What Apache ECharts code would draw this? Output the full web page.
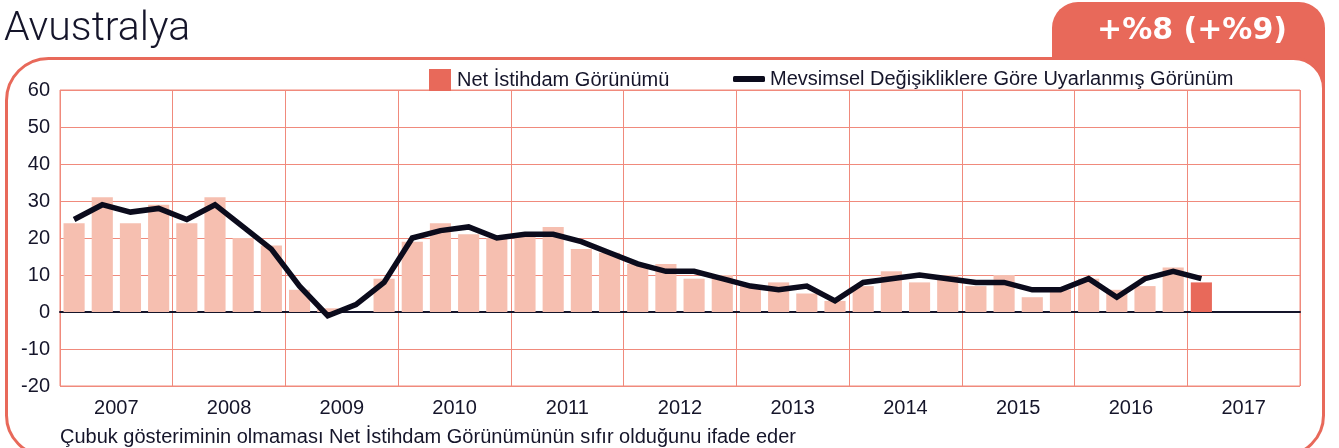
<!DOCTYPE html>
<html>
<head>
<meta charset="utf-8">
<script src="https://cdn.jsdelivr.net/npm/echarts@6/dist/echarts.min.js"></script>
<style>
html,body{margin:0;padding:0;background:#fff;}
#chart{width:1339px;height:448px;}
</style>
</head>
<body>
<div id="chart"></div>
<script>
// ---- data ----
const years = ['2007','2008','2009','2010','2011','2012','2013','2014','2015','2016','2017'];
const quarters = [];
years.forEach(function (y) { for (let q = 1; q <= 4; q++) quarters.push(y + ' Q' + q); });

// Net Employment Outlook (bars), 2007 Q1 .. 2017 Q1
const netOutlook = [
  24, 31, 24, 29,
  24, 31, 20, 18,
  6, 1, 0, 9,
  19, 24, 21, 20,
  21, 23, 17, 16,
  13, 13, 9, 10,
  7, 8, 5, 3,
  7, 11, 8, 10,
  7, 10, 4, 6,
  9, 6, 7, 12,
  8
];
// Seasonally adjusted outlook (line)
const seasonallyAdjusted = [
  25, 29, 27, 28,
  25, 29, 23, 17,
  7, -1, 2, 8,
  20, 22, 23, 20,
  21, 21, 19, 16,
  13, 11, 11, 9,
  7, 6, 7, 3,
  8, 9, 10, 9,
  8, 8, 6, 6,
  9, 4, 9, 11,
  9
];
const yTicks = { min: -20, max: 60, interval: 10 };
const titleText = 'Avustralya';
const badgeText = '+%8 (+%9)';
const barName = 'Net İstihdam Görünümü';
const lineName = 'Mevsimsel Değişikliklere Göre Uyarlanmış Görünüm';
const noteText = 'Çubuk gösteriminin olmaması Net İstihdam Görünümünün sıfır olduğunu ifade eder';

// ---- styles ----
const CORAL = '#e8695a';
const BAR_LIGHT = '#f6bfb0';
const GRIDC = '#f08a7c';
const INK = '#15152a';
const LINEC = '#0b0b1c';
const FONT = '"Liberation Sans", Arial, sans-serif';

const barData = netOutlook.map(function (v, i) {
  if (i === netOutlook.length - 1) return { value: v, itemStyle: { color: CORAL } };
  return v;
});

const chart = echarts.init(document.getElementById('chart'));
chart.setOption({
  backgroundColor: '#fff',
  animation: false,
  graphic: [
    { type: 'rect', z: -20, shape: { x: 1052, y: 2, width: 273, height: 90, r: [26, 26, 0, 0] }, style: { fill: CORAL } },
    { type: 'rect', z: -10, shape: { x: 6.5, y: 58.5, width: 1317, height: 397, r: [42, 30, 40, 40] }, style: { fill: '#fff', stroke: CORAL, lineWidth: 3 } },
    { type: 'text', z: 10, left: 4, top: 9, style: { text: titleText, font: '300 41px Roboto, "Liberation Sans", sans-serif', fill: INK } },
    { type: 'text', z: 10, style: { text: badgeText, x: 1192, y: 31, align: 'center', verticalAlign: 'middle', font: 'bold 30px "DejaVu Sans", sans-serif', fill: '#fff' } },
    { type: 'text', z: 10, style: { text: noteText, x: 60, y: 437, verticalAlign: 'middle', font: '20px ' + FONT, fill: INK } }
  ],
  legend: [
    {
      left: 424, top: 64, itemWidth: 22, itemHeight: 22, itemGap: 20,
      textStyle: { fontSize: 20, fontFamily: FONT, color: INK, padding: [0, 0, 0, 1] },
      data: [{ name: barName, icon: 'rect', itemStyle: { color: CORAL } }]
    },
    {
      left: 728, top: 64, itemWidth: 32, itemHeight: 6,
      textStyle: { fontSize: 20, fontFamily: FONT, color: INK, padding: [0, 0, 0, 0] },
      data: [{ name: lineName, icon: 'roundRect', itemStyle: { color: LINEC } }]
    }
  ],
  grid: { left: 60, right: 39, top: 90, bottom: 62, show: true, borderColor: GRIDC, borderWidth: 1 },
  xAxis: [
    {
      type: 'category', data: quarters, boundaryGap: true,
      axisLine: { show: true, onZero: true, lineStyle: { color: INK, width: 2 } },
      axisTick: { show: false }, axisLabel: { show: false }, splitLine: { show: false }
    },
    {
      type: 'category', data: years, boundaryGap: true, position: 'bottom',
      axisLine: { show: false, onZero: false }, axisTick: { show: false },
      axisLabel: { fontSize: 20, fontFamily: FONT, color: INK, margin: 12 },
      splitLine: { show: true, lineStyle: { color: GRIDC, width: 1 } }
    }
  ],
  yAxis: {
    type: 'value', min: yTicks.min, max: yTicks.max, interval: yTicks.interval,
    axisLine: { show: false }, axisTick: { show: false },
    axisLabel: { fontSize: 20, fontFamily: FONT, color: INK, margin: 10 },
    splitLine: { show: true, lineStyle: { color: GRIDC, width: 1 } }
  },
  series: [
    {
      name: barName, type: 'bar', xAxisIndex: 0, data: barData,
      barCategoryGap: '25%', itemStyle: { color: BAR_LIGHT }, z: 2
    },
    {
      name: lineName, type: 'line', xAxisIndex: 0, data: seasonallyAdjusted,
      symbol: 'none', lineStyle: { color: LINEC, width: 5.5, join: 'miter' }, itemStyle: { color: LINEC }, z: 3
    }
  ]
});
</script>
</body>
</html>
